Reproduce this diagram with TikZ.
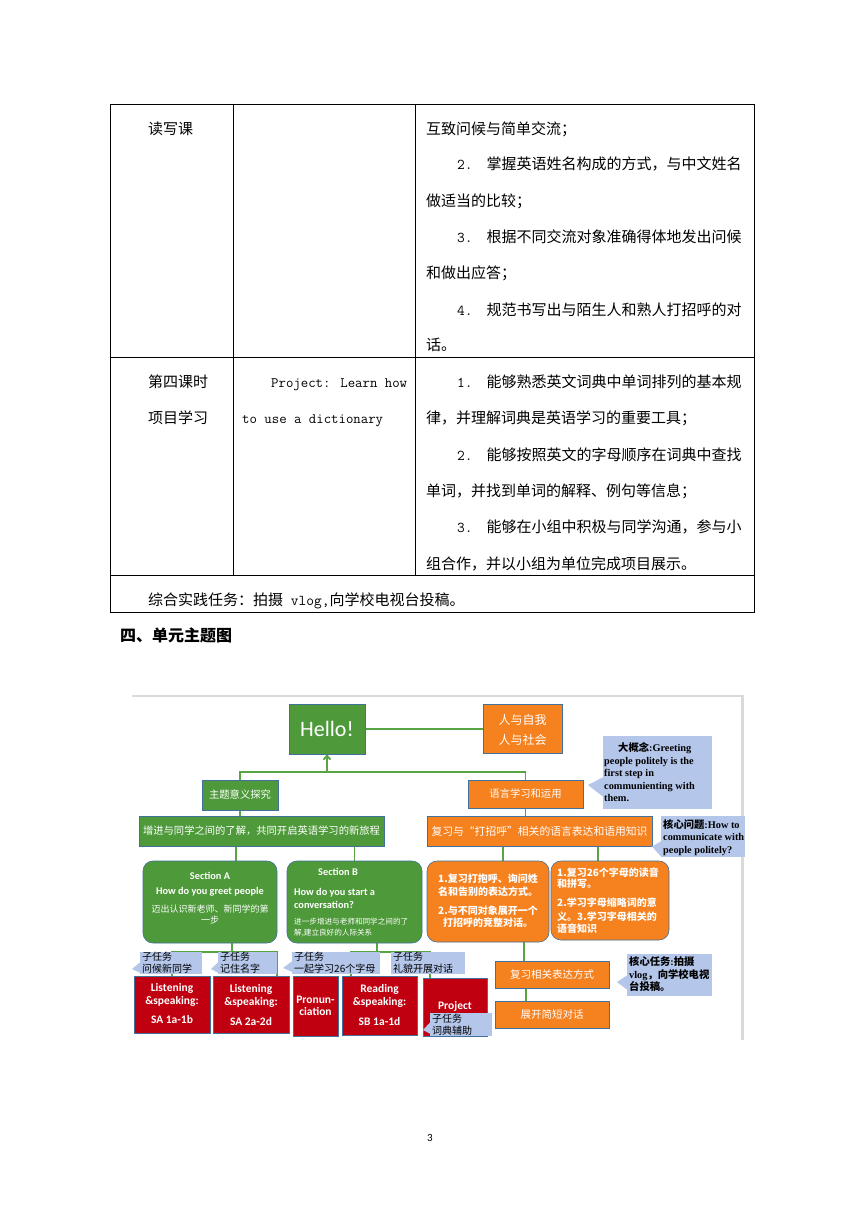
\documentclass[tikz,border=0pt]{standalone}
\usepackage{fontspec}
\setmainfont{Carlito}
\newfontfamily\cjk{Noto Sans CJK SC}
\newfontfamily\calib{Carlito}
\newfontfamily\tmsr{Liberation Serif}
\usetikzlibrary{arrows.meta,backgrounds}
\definecolor{hgreen}{RGB}{78,154,58}
\definecolor{hline}{RGB}{86,164,66}
\definecolor{horange}{RGB}{246,129,31}
\definecolor{hblue}{RGB}{180,198,234}
\definecolor{hred}{RGB}{192,0,16}
\definecolor{hbord}{RGB}{65,113,156}
\definecolor{framegray}{RGB}{218,218,218}
\newcommand\ftab{\cjk\fontsize{15}{18}\selectfont}
\newcommand\fmono{\ttfamily\fontsize{14.4}{16}\selectfont}
\newcommand\fsec{\calib\bfseries\fontsize{10.3}{12}\selectfont}
\newcommand\fseccj{\cjk\fontsize{9}{11}\selectfont}
\newcommand\fsecbcj{\cjk\fontsize{7.6}{9}\selectfont}
\newcommand\fob{\cjk\bfseries\fontsize{10}{12}\selectfont}
\newcommand\fcb{\tmsr\bfseries\fontsize{10.3}{12}\selectfont}
\newcommand\fcjb{\cjk\bfseries\fontsize{10.3}{12}\selectfont}
\newcommand\fsub{\cjk\fontsize{10}{12}\selectfont}
\newcommand\fred{\calib\bfseries\fontsize{11.5}{13}\selectfont}
\begin{document}
\begin{tikzpicture}[x=1pt,y=-1pt,
  tabt/.style={inner sep=0pt, anchor=base west, font=\ftab},
  txt/.style={inner sep=0pt},
  wt/.style={inner sep=0pt, text=white},
  gbox/.style={fill=hgreen, draw=hbord, line width=0.6pt, text=white, inner sep=0pt},
  obox/.style={fill=horange, draw=hbord, line width=0.6pt, text=white, inner sep=0pt},
  rbox/.style={fill=hred, draw=hbord, line width=0.6pt, inner sep=0pt},
  cbox/.style={fill=hblue, inner sep=0pt, anchor=north west},
  gline/.style={draw=hline, line width=1.8pt},
  tline/.style={draw=black, line width=0.9pt}]
\useasboundingbox (0,0) rectangle (860,1216);

% ---------------- table ----------------
\draw[tline] (110,104) rectangle (754,612);
\draw[tline] (110,357) -- (754,357);
\draw[tline] (110,575) -- (754,575);
\draw[tline] (233,104) -- (233,575);
\draw[tline] (415,104) -- (415,575);

\node[tabt] (c11) at (148,134.5) {读写课};
\node[tabt] (c13a) at (426,134.5) {互致问候与简单交流；};
\node[tabt] (c13b) at (457,169.5) {{\ttfamily 2.}\hspace{14pt}掌握英语姓名构成的方式，与中文姓名};
\node[tabt] (c13c) at (426,206.5) {做适当的比较；};
\node[tabt] (c13d) at (457,242.5) {{\ttfamily 3.}\hspace{14pt}根据不同交流对象准确得体地发出问候};
\node[tabt] (c13e) at (426,278.5) {和做出应答；};
\node[tabt] (c13f) at (457,315.5) {{\ttfamily 4.}\hspace{14pt}规范书写出与陌生人和熟人打招呼的对};
\node[tabt] (c13g) at (426,350.5) {话。};

\node[tabt] (c21a) at (148,387.5) {第四课时};
\node[tabt] (c21b) at (148,423.5) {项目学习};
\node[tabt, font=\fmono] (c22a) at (271,387.5) {Project: Learn how};
\node[tabt, font=\fmono] (c22b) at (242,423.5) {to use a dictionary};
\node[tabt] (c23a) at (457,387.5) {{\ttfamily 1.}\hspace{14pt}能够熟悉英文词典中单词排列的基本规};
\node[tabt] (c23b) at (426,423.5) {律，并理解词典是英语学习的重要工具；};
\node[tabt] (c23c) at (457,460.5) {{\ttfamily 2.}\hspace{14pt}能够按照英文的字母顺序在词典中查找};
\node[tabt] (c23d) at (426,496.5) {单词，并找到单词的解释、例句等信息；};
\node[tabt] (c23e) at (457,532.5) {{\ttfamily 3.}\hspace{14pt}能够在小组中积极与同学沟通，参与小};
\node[tabt] (c23f) at (426,569.5) {组合作，并以小组为单位完成项目展示。};
\node[tabt] (c3) at (148,605.5) {综合实践任务：拍摄{\ttfamily\ vlog,}向学校电视台投稿。};

\node[tabt, font=\cjk\bfseries\fontsize{16}{18}\selectfont] (head) at (120,641.8) {四、单元主题图};
\node[txt, anchor=base, font=\calib\fontsize{11}{12}\selectfont] (pg) at (430,1141) {3};

% ---------------- diagram boxes ----------------
\node[gbox, minimum width=76, minimum height=50, font=\calib\fontsize{22}{24}\selectfont] (hello) at (327,729) {Hello!};
\node[obox, minimum width=79, minimum height=49] (self) at (522.5,729) {};
\node[wt, anchor=base, font=\cjk\fontsize{12}{14}\selectfont] (selfa) at (522.5,724.4) {人与自我};
\node[wt, anchor=base, font=\cjk\fontsize{12}{14}\selectfont] (selfb) at (522.5,744.4) {人与社会};

\node[gbox, minimum width=76, minimum height=30, font=\cjk\fontsize{10.3}{12}\selectfont] (theme) at (240,795) {主题意义探究};
\node[obox, minimum width=115, minimum height=28, font=\cjk\fontsize{10.3}{12}\selectfont] (lang) at (525.5,794) {语言学习和运用};
\node[gbox, minimum width=245, minimum height=30, font=\cjk\fontsize{10.3}{12}\selectfont] (gwide) at (261.5,831) {增进与同学之间的了解，共同开启英语学习的新旅程};
\node[obox, minimum width=225, minimum height=30, font=\cjk\fontsize{10.8}{12}\selectfont] (owide) at (539.5,831) {复习与“打招呼”相关的语言表达和语用知识};

\node[gbox, rounded corners=10pt, minimum width=134, minimum height=82] (secA) at (210,902) {};
\node[wt, anchor=base, font=\fsec] (sa1) at (210,879.5) {Section A};
\node[wt, anchor=base, font=\fsec] (sa2) at (210,894.5) {How do you greet people};
\node[wt, anchor=base, font=\fseccj] (sa3) at (210,912.3) {迈出认识新老师、新同学的第};
\node[wt, anchor=base, font=\fseccj] (sa4) at (210,923.3) {一步};

\node[gbox, rounded corners=10pt, minimum width=135, minimum height=82] (secB) at (354.5,902) {};
\node[wt, anchor=base, font=\fsec] (sb1) at (338,875.5) {Section B};
\node[wt, anchor=base west, font=\fsec] (sb2) at (294,895.5) {How do you start a};
\node[wt, anchor=base west, font=\fsec] (sb3) at (294,908.5) {conversation?};
\node[wt, anchor=base west, font=\fsecbcj] (sb4) at (294,924.8) {进一步增进与老师和同学之间的了};
\node[wt, anchor=base west, font=\fsecbcj] (sb5) at (294,935.8) {解,建立良好的人际关系};

\node[obox, rounded corners=10pt, minimum width=122, minimum height=81] (or1) at (488,901.5) {};
\node[wt, anchor=base, font=\fob] (o1a) at (488,882.7) {1.复习打抱呼、询问姓};
\node[wt, anchor=base, font=\fob] (o1b) at (488,895.7) {名和告别的表达方式。};
\node[wt, anchor=base, font=\fob] (o1c) at (488,914.7) {2.与不同对象展开一个};
\node[wt, anchor=base, font=\fob] (o1d) at (488,926.7) {打招呼的竞整对话。};

\node[obox, rounded corners=10pt, minimum width=118, minimum height=79] (or2) at (610,900.5) {};
\node[wt, anchor=base west, font=\fob] (o2a) at (557,876.4) {1.复习26个字母的读音};
\node[wt, anchor=base west, font=\fob] (o2b) at (557,887.4) {和拼写。};
\node[wt, anchor=base west, font=\fob] (o2c) at (557,906.7) {2.学习字母缩略词的意};
\node[wt, anchor=base west, font=\fob] (o2d) at (557,920.7) {义。3.学习字母相关的};
\node[wt, anchor=base west, font=\fob] (o2e) at (557,932.7) {语音知识};

\node[obox, minimum width=114, minimum height=27, font=\cjk\fontsize{10.5}{12}\selectfont] (rev) at (552,974.5) {复习相关表达方式};
\node[obox, minimum width=114, minimum height=27, font=\cjk\fontsize{10.5}{12}\selectfont] (dlg) at (552,1014.5) {展开简短对话};

% red boxes
\node[rbox, minimum width=76, minimum height=57] (r1) at (172,1004.5) {};
\node[wt, anchor=base, font=\fred] (r1a) at (172,991.8) {Listening};
\node[wt, anchor=base, font=\fred] (r1b) at (172,1004.8) {\&speaking:};
\node[wt, anchor=base, font=\fred] (r1c) at (172,1023.8) {SA 1a-1b};
\node[rbox, minimum width=76, minimum height=57] (r2) at (251,1004.5) {};
\node[wt, anchor=base, font=\fred] (r2a) at (251,992.8) {Listening};
\node[wt, anchor=base, font=\fred] (r2b) at (251,1005.8) {\&speaking:};
\node[wt, anchor=base, font=\fred] (r2c) at (251,1025.8) {SA 2a-2d};
\node[rbox, minimum width=45, minimum height=60] (r3) at (315.5,1006) {};
\node[wt, anchor=base, font=\fred] (r3a) at (315.5,1003.8) {Pronun-};
\node[wt, anchor=base, font=\fred] (r3b) at (315.5,1015.8) {ciation};
\node[rbox, minimum width=75, minimum height=59] (r4) at (379.5,1005.5) {};
\node[wt, anchor=base, font=\fred] (r4a) at (379.5,992.8) {Reading};
\node[wt, anchor=base, font=\fred] (r4b) at (379.5,1005.8) {\&speaking:};
\node[wt, anchor=base, font=\fred] (r4c) at (379.5,1025.8) {SB 1a-1d};
\node[rbox, minimum width=64, minimum height=58] (r5) at (455,1007) {};
\node[wt, anchor=base, font=\fred] (r5a) at (455,1009.8) {Project};

% ---------------- callouts ----------------
\node[cbox, minimum width=109, minimum height=73] (big) at (603,736) {};
\fill[hblue] (603.5,777) -- (588,785) -- (603.5,797) -- cycle;
\node[txt, anchor=base west, font=\fcb] (bg1) at (618,751.5) {{\fcjb 大概念}:Greeting};
\node[txt, anchor=base west, font=\fcb] (bg2) at (604,764.5) {people politely is the};
\node[txt, anchor=base west, font=\fcb] (bg3) at (604,776.5) {first step in};
\node[txt, anchor=base west, font=\fcb] (bg4) at (604,789.5) {communienting with};
\node[txt, anchor=base west, font=\fcb] (bg5) at (604,801.5) {them.};

\node[cbox, minimum width=84, minimum height=41] (core) at (661,816) {};
\fill[hblue] (661.5,841) -- (652,846.5) -- (661.5,857) -- cycle;
\node[txt, anchor=base west, font=\fcb] (cq1) at (663,828.5) {{\fcjb 核心问题}:How to};
\node[txt, anchor=base west, font=\fcb] (cq2) at (663,840.5) {communicate with};
\node[txt, anchor=base west, font=\fcb] (cq3) at (663,853.5) {people politely?};

\node[cbox, minimum width=85, minimum height=42] (task) at (627,954) {};
\fill[hblue] (627.5,975) -- (617,982) -- (627.5,990) -- cycle;
\node[txt, anchor=base west, font=\fcjb] (tk1) at (629,965.5) {核心任务{\fcb :}拍摄};
\node[txt, anchor=base west, font=\fcjb] (tk2) at (629,978.5) {{\fcb vlog}，向学校电视};
\node[txt, anchor=base west, font=\fcjb] (tk3) at (629,990.5) {台投稿。};

\node[cbox, minimum width=62, minimum height=22] (c1) at (140,952) {};
\fill[hblue] (140.5,962) -- (132,969) -- (140.5,973) -- cycle;
\node[txt, anchor=base west, font=\fsub] (c1a) at (142,960.7) {子任务};
\node[txt, anchor=base west, font=\fsub] (c1b) at (142,972.5) {问候新同学};

\node[cbox, minimum width=59, minimum height=22] (c2) at (218,952) {};
\fill[hblue] (218.5,962) -- (211,969) -- (218.5,973) -- cycle;
\node[txt, anchor=base west, font=\fsub] (c2a) at (220,960.7) {子任务};
\node[txt, anchor=base west, font=\fsub] (c2b) at (220,972.5) {记住名字};

\node[cbox, minimum width=88, minimum height=22] (c3) at (292,952) {};
\fill[hblue] (292.5,961) -- (283,968) -- (292.5,972) -- cycle;
\node[txt, anchor=base west, font=\fsub] (c3a) at (294,960.7) {子任务};
\node[txt, anchor=base west, font=\fsub] (c3b) at (294,972.5) {一起学习26个字母};

\node[cbox, minimum width=74, minimum height=22] (c4) at (391,952) {};
\node[txt, anchor=base west, font=\fsub] (c4a) at (393,960.7) {子任务};
\node[txt, anchor=base west, font=\fsub] (c4b) at (393,972.5) {礼貌开展对话};

\node[cbox, minimum width=62, minimum height=23] (c5) at (430,1013) {};
\fill[hblue] (430.5,1022) -- (423,1030) -- (430.5,1034) -- cycle;
\node[txt, anchor=base west, font=\fsub] (c5a) at (432,1022.7) {子任务};
\node[txt, anchor=base west, font=\fsub] (c5b) at (432,1034.5) {词典辅助};

% ---------------- background: frame and connectors ----------------
\begin{scope}[on background layer]
\fill[white] (0,0) rectangle (860,1216);
\draw[draw=framegray, line width=1.5pt] (132,696) -- (744,696);
\draw[draw=framegray, line width=3pt] (742.5,696) -- (742.5,1040);
\coordinate (bar) at (327,772);
\draw[gline] (hello.east) -- (self.west);
\draw[gline] (theme.north) |- (bar) -| (lang.north);
\draw[gline, -{Straight Barb[length=4pt,width=7pt]}] (bar) -- (hello.south);
\draw[gline] (theme.south) -- (theme.south |- gwide.north);
\draw[gline] (lang.south) -- (lang.south |- owide.north);
\draw[gline] ([xshift=26pt]secA.north) -- ([xshift=26pt]secA.north |- gwide.south);
\draw[gline] (secB.north) -- (secB.north |- gwide.south);
\draw[gline] ([xshift=15pt]or1.north) -- ([xshift=15pt]or1.north |- owide.south);
\draw[gline] ([xshift=-12pt]or2.north) -- ([xshift=-12pt]or2.north |- owide.south);
\draw[gline] ([xshift=-28pt]rev.north) -- ([xshift=-28pt]rev.north |- or1.south);
\draw[gline] ([xshift=-26pt]dlg.north) -- ([xshift=-26pt]dlg.north |- rev.south);
\draw[gline] ([xshift=22pt]secA.south) -- ([xshift=22pt]secA.south |- c1.north) coordinate (ja);
\draw[gline] (r1.north) |- (ja) -| ([xshift=26pt]r2.north);
\draw[gline] ([xshift=22.5pt]secB.south) -- ([xshift=22.5pt]secB.south |- c3.north) coordinate (jb);
\draw[gline] ([xshift=-28.5pt]r4.north) |- (jb) -| ([xshift=-25pt]r5.north);
\end{scope}
\end{tikzpicture}
\end{document}
